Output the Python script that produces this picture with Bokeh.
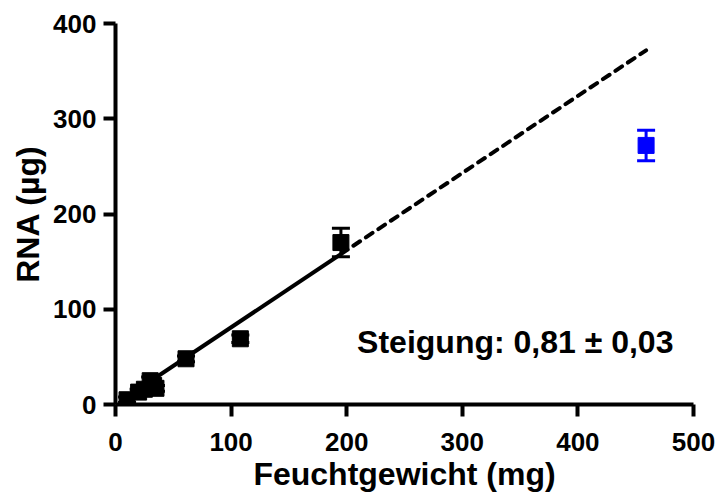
from bokeh.plotting import figure
from bokeh.models import Range1d, Label, FixedTicker
from bokeh.embed import file_html
from bokeh.resources import INLINE

# ---- data ----
weights = [10, 20, 25, 30, 33, 35, 61, 108, 195]
rna = [5, 13, 16, 25, 20, 17, 48, 69, 170]
rna_err = [3, 3, 3, 4, 4, 3, 3, 4, 15]

outlier_weight = [459]
outlier_rna = [272]
outlier_err = [16]

slope = 0.81
slope_err = 0.03
intercept = 0.0

x_ticks = [0, 100, 200, 300, 400, 500]
y_ticks = [0, 100, 200, 300, 400]
x_label = "Feuchtgewicht (mg)"
y_label = "RNA (µg)"
annotation = "Steigung: 0,81 ± 0,03"

FONT = "Liberation Sans"

p = figure(width=715, height=499, x_range=Range1d(0, 500), y_range=Range1d(0, 400),
           output_backend="svg", toolbar_location=None,
           min_border_left=115, min_border_right=22, min_border_top=23, min_border_bottom=95)
p.outline_line_color = None
p.xgrid.visible = False
p.ygrid.visible = False
p.background_fill_color = "white"
p.border_fill_color = "white"

p.xaxis.ticker = FixedTicker(ticks=x_ticks)
p.yaxis.ticker = FixedTicker(ticks=y_ticks)
for ax in (p.xaxis, p.yaxis):
    ax.axis_line_width = 4
    ax.axis_line_color = "black"
    ax.major_tick_line_width = 4
    ax.major_tick_line_color = "black"
    ax.major_tick_out = 12
    ax.major_tick_in = 0
    ax.minor_tick_line_color = None
    ax.major_label_text_font = FONT
    ax.major_label_text_font_style = "bold"
    ax.major_label_text_font_size = "26px"
    ax.major_label_text_color = "black"
    ax.axis_label_text_font = FONT
    ax.axis_label_text_font_style = "bold"
    ax.axis_label_text_font_size = "32px"
    ax.axis_label_text_color = "black"
    ax.major_label_standoff = 7
    ax.axis_label_standoff = 6
p.xaxis.major_label_standoff = 16
p.xaxis.axis_label_standoff = 2
p.yaxis.axis_label_standoff = 4
p.xaxis.axis_label = x_label
p.yaxis.axis_label = y_label

# regression lines
x_min, x_max = min(weights), max(weights)
x_end = outlier_weight[0]
p.line([x_min, x_max], [slope * x_min + intercept, slope * x_max + intercept],
       line_color="black", line_width=4)
p.line([x_max, x_end], [slope * x_max + intercept, slope * x_end + intercept],
       line_color="black", line_width=4, line_dash="8 7", line_cap="round")

def draw_points(xs, ys, es, color):
    lo = [y - e for y, e in zip(ys, es)]
    hi = [y + e for y, e in zip(ys, es)]
    p.segment(x0=xs, y0=lo, x1=xs, y1=hi, line_color=color, line_width=3)
    p.scatter(xs, hi, marker="dash", size=18, line_color=color, line_width=3)
    p.scatter(xs, lo, marker="dash", size=18, line_color=color, line_width=3)
    p.scatter(xs, ys, marker="square", size=16, fill_color=color, line_color=color)

draw_points(weights, rna, rna_err, "black")
draw_points(outlier_weight, outlier_rna, outlier_err, "#0000FF")

p.add_layout(Label(x=209, y=66, text=annotation, text_font=FONT, text_font_style="bold",
                   text_font_size="32px", text_color="black", text_baseline="middle"))

open("out.html", "w").write(file_html(p, INLINE))
